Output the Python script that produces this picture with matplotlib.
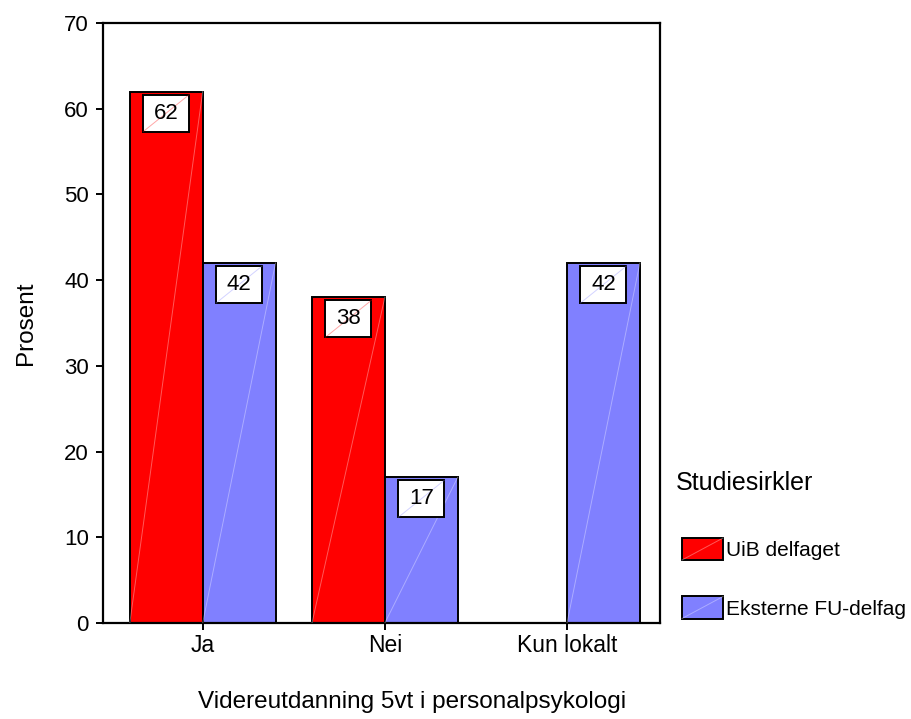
import matplotlib
matplotlib.use('Agg')
import matplotlib.pyplot as plt
import numpy as np
from matplotlib.patches import Rectangle
from matplotlib.lines import Line2D
from matplotlib.legend_handler import HandlerBase
from matplotlib.transforms import ScaledTranslation

plt.rcParams['font.family'] = ['Liberation Sans', 'DejaVu Sans']

categories = ['Ja', 'Nei', 'Kun lokalt']
uib = [62, 38, 0]
eksterne = [42, 17, 42]
series_names = ['UiB delfaget', 'Eksterne FU-delfag']
colors = ['#ff0000', '#8080ff']
yticks = [0, 10, 20, 30, 40, 50, 60, 70]

fig = plt.figure(figsize=(9.11, 7.19), dpi=100)
ax = fig.add_axes([0.1127, 0.1335, 0.6117, 0.8345])

x = np.arange(len(categories))
w = 0.4


def draw_bars(xpos, vals, color):
    for xi, v in zip(xpos, vals):
        ax.bar(xi, v, width=w, color=color, edgecolor='black', linewidth=1.4,
               zorder=2, clip_on=False)
        if v > 0:
            # faint diagonal streak across the fill
            ax.plot([xi - w / 2, xi + w / 2], [0, v], color='white', alpha=0.35,
                    lw=0.7, zorder=3)


draw_bars(x - w / 2, uib, colors[0])
draw_bars(x + w / 2, eksterne, colors[1])


def value_box(xi, v, color):
    # white label box hanging from the top of the bar, sized in inches
    trans = fig.dpi_scale_trans + ScaledTranslation(xi, v, ax.transData)
    bw, bh, top = 0.46, 0.37, -0.03
    ax.add_patch(Rectangle((-bw / 2, top - bh), bw, bh, transform=trans,
                           facecolor='white', edgecolor='black', lw=1.4,
                           zorder=4, clip_on=False))
    ax.add_line(Line2D([-bw / 2, bw / 2], [top - bh, top], transform=trans,
                       color=color, alpha=0.35, lw=0.7, zorder=5))
    ax.text(0, top - bh / 2, f'{v:g}', transform=trans, ha='center', va='center',
            fontsize=16, zorder=6)


for xi, v in zip(x - w / 2, uib):
    if v > 0:
        value_box(xi, v, colors[0])
for xi, v in zip(x + w / 2, eksterne):
    if v > 0:
        value_box(xi, v, colors[1])

ax.set_xlim(-0.549, 2.51)
ax.set_ylim(0, 70)
ax.set_yticks(yticks)
ax.set_xticks(x)
ax.set_xticklabels(categories)
ax.tick_params(axis='both', direction='out', length=5, width=1.4, labelsize=16, pad=3)
ax.tick_params(axis='x', labelsize=16.5)
ax.tick_params(axis='y', pad=5)
for s in ax.spines.values():
    s.set_linewidth(1.6)

ax.set_xlabel('Videreutdanning 5vt i personalpsykologi', fontsize=17.5)
ax.xaxis.set_label_coords(0.555, -0.113)
ax.set_ylabel('Prosent', fontsize=17.5)
ax.yaxis.set_label_coords(-0.118, 0.5)


class DiagPatchHandler(HandlerBase):
    def create_artists(self, legend, orig_handle, xdescent, ydescent, width,
                       height, fontsize, trans):
        r = Rectangle((-xdescent, -ydescent), width, height,
                      facecolor=orig_handle.get_facecolor(), edgecolor='black',
                      lw=1.4, transform=trans)
        ln = Line2D([-xdescent, -xdescent + width], [-ydescent, -ydescent + height],
                    color='white', alpha=0.35, lw=0.7, transform=trans)
        return [r, ln]


fig.text(676 / 911, 1 - 483 / 719, 'Studiesirkler', fontsize=18,
         ha='left', va='center')
handles = [Rectangle((0, 0), 1, 1, facecolor=c) for c in colors]
leg = fig.legend(handles, series_names, loc='upper left',
                 bbox_to_anchor=(682 / 911, 1 - 538 / 719),
                 frameon=False, fontsize=15,
                 handlelength=1.97, handleheight=1.25, handletextpad=0.15,
                 labelspacing=1.75, borderpad=0, borderaxespad=0,
                 handler_map={Rectangle: DiagPatchHandler()})

fig.savefig('out.png', dpi=100)
